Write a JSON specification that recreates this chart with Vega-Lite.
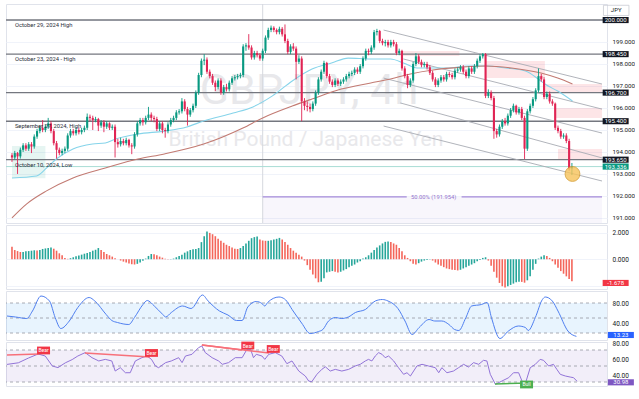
{
"$schema": "https://vega.github.io/schema/vega-lite/v6.json",
"padding": {"left": 4, "top": 3, "right": 0, "bottom": 0},
"background": "#ffffff",
"bounds": "flush",
"spacing": 2,
"config": {"font": "Roboto", "view": {"stroke": "#e0e3eb"}, "axis": {"labelFont": "Roboto", "labelFontSize": 6.5, "labelColor": "#131722", "gridColor": "#f0f3fa", "domain": false, "ticks": false}},
"datasets": {
"candles": [
{"t":0,"o":193.85,"h":193.95,"l":193.55,"c":193.75},{"t":1,"o":193.75,"h":194.05,"l":193.65,"c":193.95},{"t":2,"o":193.95,"h":194.0,"l":193.0,"c":193.8},{"t":3,"o":193.8,"h":194.2,"l":193.7,"c":194.1},{"t":4,"o":194.1,"h":194.4,"l":194.0,"c":194.3},{"t":5,"o":194.3,"h":194.4,"l":194.05,"c":194.15},{"t":6,"o":194.15,"h":194.45,"l":194.05,"c":194.35},{"t":7,"o":194.35,"h":194.45,"l":193.95,"c":194.25},{"t":8,"o":194.25,"h":194.8,"l":194.15,"c":194.7},{"t":9,"o":194.7,"h":195.05,"l":194.6,"c":194.95},
{"t":10,"o":194.95,"h":195.2,"l":194.85,"c":195.1},{"t":11,"o":195.1,"h":195.45,"l":194.9,"c":195.0},{"t":12,"o":195.0,"h":195.25,"l":194.9,"c":195.15},{"t":13,"o":195.15,"h":195.55,"l":195.05,"c":195.3},{"t":14,"o":195.3,"h":195.4,"l":194.85,"c":194.95},{"t":15,"o":194.95,"h":195.05,"l":194.3,"c":194.4},{"t":16,"o":194.4,"h":194.5,"l":193.7,"c":194.1},{"t":17,"o":194.1,"h":194.2,"l":193.85,"c":193.95},{"t":18,"o":193.95,"h":194.15,"l":193.85,"c":194.05},{"t":19,"o":194.05,"h":194.25,"l":193.95,"c":194.15},
{"t":20,"o":194.15,"h":194.85,"l":194.05,"c":194.75},{"t":21,"o":194.75,"h":195.05,"l":194.65,"c":194.95},{"t":22,"o":194.95,"h":195.05,"l":194.75,"c":194.85},{"t":23,"o":194.85,"h":195.1,"l":194.75,"c":195.0},{"t":24,"o":195.0,"h":195.1,"l":194.8,"c":194.9},{"t":25,"o":194.9,"h":195.1,"l":194.8,"c":195.0},{"t":26,"o":195.0,"h":195.2,"l":194.9,"c":195.1},{"t":27,"o":195.1,"h":195.75,"l":195.0,"c":195.6},{"t":28,"o":195.6,"h":195.7,"l":195.4,"c":195.55},{"t":29,"o":195.55,"h":195.65,"l":195.0,"c":195.45},
{"t":30,"o":195.45,"h":195.6,"l":195.35,"c":195.5},{"t":31,"o":195.5,"h":195.55,"l":194.95,"c":195.2},{"t":32,"o":195.2,"h":195.45,"l":195.1,"c":195.35},{"t":33,"o":195.35,"h":195.45,"l":194.9,"c":195.15},{"t":34,"o":195.15,"h":195.4,"l":195.05,"c":195.3},{"t":35,"o":195.3,"h":195.35,"l":195.0,"c":195.1},{"t":36,"o":195.1,"h":195.25,"l":195.0,"c":195.15},{"t":37,"o":195.15,"h":195.25,"l":193.75,"c":194.45},{"t":38,"o":194.45,"h":194.6,"l":194.2,"c":194.35},{"t":39,"o":194.35,"h":194.65,"l":194.25,"c":194.5},
{"t":40,"o":194.5,"h":194.6,"l":194.3,"c":194.4},{"t":41,"o":194.4,"h":194.65,"l":194.3,"c":194.55},{"t":42,"o":194.55,"h":194.6,"l":194.2,"c":194.3},{"t":43,"o":194.3,"h":194.4,"l":193.9,"c":194.25},{"t":44,"o":194.25,"h":194.9,"l":194.15,"c":194.8},{"t":45,"o":194.8,"h":195.4,"l":194.7,"c":195.3},{"t":46,"o":195.3,"h":195.55,"l":195.2,"c":195.45},{"t":47,"o":195.45,"h":195.55,"l":195.2,"c":195.35},{"t":48,"o":195.35,"h":195.65,"l":195.25,"c":195.55},{"t":49,"o":195.55,"h":196.05,"l":195.45,"c":195.7},
{"t":50,"o":195.7,"h":195.8,"l":195.4,"c":195.55},{"t":51,"o":195.55,"h":195.65,"l":195.35,"c":195.5},{"t":52,"o":195.5,"h":195.6,"l":194.95,"c":195.05},{"t":53,"o":195.05,"h":195.4,"l":194.95,"c":195.3},{"t":54,"o":195.3,"h":195.4,"l":194.85,"c":195.0},{"t":55,"o":195.0,"h":195.1,"l":194.65,"c":194.95},{"t":56,"o":194.95,"h":195.35,"l":194.85,"c":195.25},{"t":57,"o":195.25,"h":195.55,"l":195.15,"c":195.45},{"t":58,"o":195.45,"h":195.65,"l":195.35,"c":195.55},{"t":59,"o":195.55,"h":195.9,"l":195.45,"c":195.8},
{"t":60,"o":195.8,"h":195.95,"l":195.7,"c":195.85},{"t":61,"o":195.85,"h":196.45,"l":195.75,"c":196.3},{"t":62,"o":196.3,"h":196.4,"l":195.85,"c":195.95},{"t":63,"o":195.95,"h":196.05,"l":195.2,"c":195.7},{"t":64,"o":195.7,"h":196.0,"l":195.6,"c":195.9},{"t":65,"o":195.9,"h":196.2,"l":195.8,"c":196.1},{"t":66,"o":196.1,"h":196.8,"l":196.0,"c":196.7},{"t":67,"o":196.7,"h":197.6,"l":196.6,"c":197.5},{"t":68,"o":197.5,"h":198.25,"l":197.4,"c":198.15},{"t":69,"o":198.15,"h":198.45,"l":197.95,"c":198.2},
{"t":70,"o":198.2,"h":198.3,"l":197.55,"c":197.65},{"t":71,"o":197.65,"h":197.75,"l":197.35,"c":197.45},{"t":72,"o":197.45,"h":197.55,"l":197.05,"c":197.15},{"t":73,"o":197.15,"h":197.25,"l":196.77,"c":196.95},{"t":74,"o":196.95,"h":197.35,"l":196.85,"c":197.25},{"t":75,"o":197.25,"h":197.35,"l":196.6,"c":196.7},{"t":76,"o":196.7,"h":197.05,"l":196.6,"c":196.95},{"t":77,"o":196.95,"h":197.1,"l":196.75,"c":196.85},{"t":78,"o":196.85,"h":197.25,"l":196.75,"c":197.15},{"t":79,"o":197.15,"h":197.45,"l":197.05,"c":197.35},
{"t":80,"o":197.35,"h":197.5,"l":197.25,"c":197.4},{"t":81,"o":197.4,"h":197.55,"l":197.3,"c":197.45},{"t":82,"o":197.45,"h":197.6,"l":197.35,"c":197.5},{"t":83,"o":197.5,"h":198.9,"l":197.4,"c":198.8},{"t":84,"o":198.8,"h":198.95,"l":198.6,"c":198.85},{"t":85,"o":198.85,"h":199.36,"l":198.65,"c":198.75},{"t":86,"o":198.75,"h":198.85,"l":198.2,"c":198.3},{"t":87,"o":198.3,"h":198.6,"l":198.2,"c":198.5},{"t":88,"o":198.5,"h":198.6,"l":198.3,"c":198.4},{"t":89,"o":198.4,"h":198.5,"l":198.15,"c":198.25},
{"t":90,"o":198.25,"h":198.7,"l":198.15,"c":198.6},{"t":91,"o":198.6,"h":199.3,"l":198.5,"c":199.2},{"t":92,"o":199.2,"h":199.65,"l":199.1,"c":199.55},{"t":93,"o":199.55,"h":199.75,"l":199.45,"c":199.65},{"t":94,"o":199.65,"h":199.72,"l":199.45,"c":199.55},{"t":95,"o":199.55,"h":199.62,"l":199.35,"c":199.45},{"t":96,"o":199.45,"h":199.7,"l":199.35,"c":199.6},{"t":97,"o":199.6,"h":199.68,"l":199.25,"c":199.35},{"t":98,"o":199.35,"h":199.8,"l":198.95,"c":199.05},{"t":99,"o":199.05,"h":199.15,"l":198.45,"c":198.55},
{"t":100,"o":198.55,"h":198.9,"l":198.45,"c":198.8},{"t":101,"o":198.8,"h":198.95,"l":198.6,"c":198.7},{"t":102,"o":198.7,"h":198.8,"l":197.3,"c":198.1},{"t":103,"o":198.1,"h":198.4,"l":198.0,"c":198.25},{"t":104,"o":198.25,"h":198.35,"l":195.4,"c":196.3},{"t":105,"o":196.3,"h":196.45,"l":195.9,"c":196.1},{"t":106,"o":196.1,"h":196.3,"l":195.85,"c":196.05},{"t":107,"o":196.05,"h":196.2,"l":195.8,"c":195.95},{"t":108,"o":195.95,"h":196.3,"l":195.85,"c":196.2},{"t":109,"o":196.2,"h":196.8,"l":196.1,"c":196.7},
{"t":110,"o":196.7,"h":197.4,"l":196.6,"c":197.3},{"t":111,"o":197.3,"h":197.75,"l":197.2,"c":197.65},{"t":112,"o":197.65,"h":198.15,"l":197.55,"c":198.05},{"t":113,"o":198.05,"h":198.1,"l":197.35,"c":197.45},{"t":114,"o":197.45,"h":197.55,"l":197.1,"c":197.2},{"t":115,"o":197.2,"h":197.3,"l":196.95,"c":197.05},{"t":116,"o":197.05,"h":197.35,"l":196.95,"c":197.25},{"t":117,"o":197.25,"h":197.35,"l":197.0,"c":197.1},{"t":118,"o":197.1,"h":197.3,"l":197.0,"c":197.2},{"t":119,"o":197.2,"h":197.4,"l":197.1,"c":197.3},
{"t":120,"o":197.3,"h":197.55,"l":197.2,"c":197.45},{"t":121,"o":197.45,"h":197.65,"l":197.35,"c":197.55},{"t":122,"o":197.55,"h":197.7,"l":197.45,"c":197.6},{"t":123,"o":197.6,"h":197.85,"l":197.5,"c":197.75},{"t":124,"o":197.75,"h":197.85,"l":197.55,"c":197.65},{"t":125,"o":197.65,"h":198.0,"l":197.55,"c":197.9},{"t":126,"o":197.9,"h":198.35,"l":197.8,"c":198.25},{"t":127,"o":198.25,"h":198.7,"l":198.15,"c":198.6},{"t":128,"o":198.6,"h":198.7,"l":198.4,"c":198.55},{"t":129,"o":198.55,"h":198.85,"l":198.45,"c":198.75},
{"t":130,"o":198.75,"h":199.55,"l":198.65,"c":199.45},{"t":131,"o":199.45,"h":199.6,"l":199.3,"c":199.5},{"t":132,"o":199.5,"h":199.55,"l":198.95,"c":199.05},{"t":133,"o":199.05,"h":199.15,"l":198.85,"c":198.95},{"t":134,"o":198.95,"h":199.1,"l":198.8,"c":199.0},{"t":135,"o":199.0,"h":199.1,"l":198.75,"c":198.85},{"t":136,"o":198.85,"h":199.1,"l":198.75,"c":199.0},{"t":137,"o":199.0,"h":199.1,"l":198.8,"c":198.9},{"t":138,"o":198.9,"h":199.0,"l":198.4,"c":198.5},{"t":139,"o":198.5,"h":198.7,"l":198.4,"c":198.6},
{"t":140,"o":198.6,"h":198.65,"l":197.7,"c":197.8},{"t":141,"o":197.8,"h":197.9,"l":197.35,"c":197.45},{"t":142,"o":197.45,"h":197.55,"l":196.9,"c":197.05},{"t":143,"o":197.05,"h":197.35,"l":196.95,"c":197.25},{"t":144,"o":197.25,"h":198.1,"l":197.15,"c":198.0},{"t":145,"o":198.0,"h":198.5,"l":197.9,"c":198.35},{"t":146,"o":198.35,"h":198.45,"l":198.0,"c":198.1},{"t":147,"o":198.1,"h":198.2,"l":197.85,"c":197.95},{"t":148,"o":197.95,"h":198.1,"l":197.85,"c":198.0},{"t":149,"o":198.0,"h":198.1,"l":197.75,"c":197.85},
{"t":150,"o":197.85,"h":197.95,"l":197.5,"c":197.6},{"t":151,"o":197.6,"h":197.7,"l":197.2,"c":197.3},{"t":152,"o":197.3,"h":197.4,"l":196.95,"c":197.05},{"t":153,"o":197.05,"h":197.35,"l":196.95,"c":197.25},{"t":154,"o":197.25,"h":197.5,"l":197.15,"c":197.4},{"t":155,"o":197.4,"h":197.5,"l":197.2,"c":197.3},{"t":156,"o":197.3,"h":197.65,"l":197.2,"c":197.55},{"t":157,"o":197.55,"h":197.65,"l":197.4,"c":197.5},{"t":158,"o":197.5,"h":197.6,"l":197.3,"c":197.4},{"t":159,"o":197.4,"h":197.8,"l":197.3,"c":197.7},
{"t":160,"o":197.7,"h":197.85,"l":197.6,"c":197.75},{"t":161,"o":197.75,"h":197.95,"l":197.65,"c":197.85},{"t":162,"o":197.85,"h":197.95,"l":197.55,"c":197.65},{"t":163,"o":197.65,"h":197.75,"l":197.35,"c":197.45},{"t":164,"o":197.45,"h":197.9,"l":197.35,"c":197.8},{"t":165,"o":197.8,"h":197.9,"l":197.55,"c":197.65},{"t":166,"o":197.65,"h":198.0,"l":197.55,"c":197.9},{"t":167,"o":197.9,"h":198.25,"l":197.8,"c":198.15},{"t":168,"o":198.15,"h":198.45,"l":198.05,"c":198.35},{"t":169,"o":198.35,"h":198.5,"l":198.25,"c":198.45},
{"t":170,"o":198.45,"h":198.5,"l":196.45,"c":196.55},{"t":171,"o":196.55,"h":196.85,"l":196.45,"c":196.7},{"t":172,"o":196.7,"h":196.8,"l":196.35,"c":196.45},{"t":173,"o":196.45,"h":196.55,"l":194.6,"c":194.95},{"t":174,"o":194.95,"h":195.05,"l":194.65,"c":194.8},{"t":175,"o":194.8,"h":195.25,"l":194.7,"c":195.15},{"t":176,"o":195.15,"h":195.5,"l":195.05,"c":195.4},{"t":177,"o":195.4,"h":195.55,"l":195.2,"c":195.3},{"t":178,"o":195.3,"h":195.75,"l":195.2,"c":195.65},{"t":179,"o":195.65,"h":196.0,"l":195.55,"c":195.9},
{"t":180,"o":195.9,"h":196.2,"l":195.8,"c":196.1},{"t":181,"o":196.1,"h":196.15,"l":195.7,"c":195.8},{"t":182,"o":195.8,"h":196.05,"l":195.7,"c":195.95},{"t":183,"o":195.95,"h":196.05,"l":195.45,"c":195.55},{"t":184,"o":195.55,"h":195.65,"l":193.68,"c":194.15},{"t":185,"o":194.15,"h":195.95,"l":194.05,"c":195.85},{"t":186,"o":195.85,"h":196.2,"l":195.75,"c":196.1},{"t":187,"o":196.1,"h":196.5,"l":196.0,"c":196.4},{"t":188,"o":196.4,"h":196.9,"l":196.3,"c":196.8},{"t":189,"o":196.8,"h":197.8,"l":196.7,"c":197.45},
{"t":190,"o":197.45,"h":197.55,"l":197.2,"c":197.3},{"t":191,"o":197.3,"h":197.4,"l":196.4,"c":196.5},{"t":192,"o":196.5,"h":196.75,"l":196.4,"c":196.65},{"t":193,"o":196.65,"h":196.75,"l":196.2,"c":196.3},{"t":194,"o":196.3,"h":196.4,"l":196.1,"c":196.2},{"t":195,"o":196.2,"h":196.25,"l":195.0,"c":195.1},{"t":196,"o":195.1,"h":195.2,"l":194.85,"c":194.95},{"t":197,"o":194.95,"h":195.05,"l":194.6,"c":194.7},{"t":198,"o":194.7,"h":194.85,"l":194.6,"c":194.75},{"t":199,"o":194.75,"h":194.85,"l":194.4,"c":194.5},
{"t":200,"o":194.5,"h":194.6,"l":193.15,"c":193.25},{"t":201,"o":193.25,"h":193.5,"l":192.95,"c":193.34}
],
"ma": [
{"t":0,"v":192.82,"k":"ma50"},{"t":8.8,"v":192.91,"k":"ma50"},{"t":12.4,"v":193.27,"k":"ma50"},{"t":15.9,"v":193.68,"k":"ma50"},{"t":21.9,"v":194.14,"k":"ma50"},{"t":28.9,"v":194.36,"k":"ma50"},{"t":33.5,"v":194.41,"k":"ma50"},{"t":37.1,"v":194.59,"k":"ma50"},{"t":45.2,"v":194.82,"k":"ma50"},{"t":54.7,"v":194.95,"k":"ma50"},{"t":62.8,"v":195.14,"k":"ma50"},{"t":68.8,"v":195.41,"k":"ma50"},{"t":79.4,"v":195.77,"k":"ma50"},{"t":86.5,"v":196.05,"k":"ma50"},{"t":93.5,"v":196.55,"k":"ma50"},{"t":100.6,"v":197.23,"k":"ma50"},{"t":107.7,"v":197.77,"k":"ma50"},{"t":114.7,"v":198.05,"k":"ma50"},{"t":120.7,"v":198.27,"k":"ma50"},{"t":128.8,"v":198.23,"k":"ma50"},{"t":135.9,"v":198.23,"k":"ma50"},{"t":140.5,"v":198.05,"k":"ma50"},{"t":145.4,"v":197.82,"k":"ma50"},{"t":156,"v":197.82,"k":"ma50"},{"t":164.1,"v":197.91,"k":"ma50"},{"t":170.1,"v":197.91,"k":"ma50"},{"t":177.2,"v":197.82,"k":"ma50"},{"t":184.3,"v":197.68,"k":"ma50"},{"t":188.9,"v":197.32,"k":"ma50"},{"t":191.3,"v":197.09,"k":"ma50"},{"t":195.9,"v":196.77,"k":"ma50"},{"t":201.2,"v":196.32,"k":"ma50"},
{"t":0,"v":191.0,"k":"ma200"},{"t":5.3,"v":191.64,"k":"ma200"},{"t":12.4,"v":192.23,"k":"ma200"},{"t":21.9,"v":192.82,"k":"ma200"},{"t":33.5,"v":193.27,"k":"ma200"},{"t":45.2,"v":193.68,"k":"ma200"},{"t":54.7,"v":193.91,"k":"ma200"},{"t":68.8,"v":194.36,"k":"ma200"},{"t":82.9,"v":195.09,"k":"ma200"},{"t":90,"v":195.55,"k":"ma200"},{"t":100.6,"v":196.09,"k":"ma200"},{"t":107.7,"v":196.41,"k":"ma200"},{"t":118.2,"v":196.86,"k":"ma200"},{"t":128.8,"v":197.14,"k":"ma200"},{"t":135.9,"v":197.32,"k":"ma200"},{"t":143,"v":197.55,"k":"ma200"},{"t":151.1,"v":197.73,"k":"ma200"},{"t":161.7,"v":197.86,"k":"ma200"},{"t":170.1,"v":197.91,"k":"ma200"},{"t":179.3,"v":197.82,"k":"ma200"},{"t":189.9,"v":197.59,"k":"ma200"},{"t":195.9,"v":197.36,"k":"ma200"},{"t":201.2,"v":197.09,"k":"ma200"}
],
"boxes": [
{"t1":0,"t2":12,"p1":192.8,"p2":194.27,"k":"pos"},
{"t1":90,"t2":211.8,"p1":190.77,"p2":191.954,"k":"fib"},
{"t1":139.4,"t2":160.6,"p1":198.36,"p2":198.59,"k":"zone"},
{"t1":170,"t2":191.3,"p1":197.36,"p2":198.14,"k":"zone"},
{"t1":191.3,"t2":211.8,"p1":196.68,"p2":197.09,"k":"zone"},
{"t1":194.8,"t2":211.8,"p1":195.55,"p2":196.0,"k":"zone"},
{"t1":196,"t2":211.8,"p1":193.63,"p2":194.14,"k":"zone"}
],
"channels": [
{"t1":133.4,"p1":199.545,"t2":211.8,"p2":197.09},
{"t1":140.5,"p1":198.23,"t2":211.8,"p2":195.95},
{"t1":133.4,"p1":197.36,"t2":211.8,"p2":194.86},
{"t1":139.4,"p1":196.23,"t2":211.8,"p2":193.73},
{"t1":133.4,"p1":195.18,"t2":211.8,"p2":192.68}
],
"levels": [
{"v":200.0,"lab":"October 29, 2024 High","b":"200.000"},
{"v":198.45,"lab":"October 23, 2024 - High","b":"198.450"},
{"v":196.7,"lab":"","b":"196.700"},
{"v":195.4,"lab":"September 27, 2024, High","b":"195.400"},
{"v":193.65,"lab":"October 10, 2024, Low","b":"193.650"}
],
"macd": [
{"t":0,"m":0.95},{"t":1,"m":0.7},{"t":2,"m":0.62},{"t":3,"m":0.55},{"t":4,"m":0.55},{"t":5,"m":0.6},{"t":6,"m":0.62},{"t":7,"m":0.65},{"t":8,"m":0.68},{"t":9,"m":0.66},
{"t":10,"m":0.7},{"t":11,"m":0.78},{"t":12,"m":0.82},{"t":13,"m":0.86},{"t":14,"m":0.9},{"t":15,"m":0.8},{"t":16,"m":0.65},{"t":17,"m":0.45},{"t":18,"m":0.3},{"t":19,"m":0.1},
{"t":20,"m":0.03},{"t":21,"m":0.08},{"t":22,"m":0.15},{"t":23,"m":0.22},{"t":24,"m":0.28},{"t":25,"m":0.35},{"t":26,"m":0.42},{"t":27,"m":0.48},{"t":28,"m":0.55},{"t":29,"m":0.65},
{"t":30,"m":0.72},{"t":31,"m":0.85},{"t":32,"m":0.7},{"t":33,"m":0.55},{"t":34,"m":0.4},{"t":35,"m":0.3},{"t":36,"m":0.2},{"t":37,"m":0.08},{"t":38,"m":0.0},{"t":39,"m":-0.1},
{"t":40,"m":-0.18},{"t":41,"m":-0.25},{"t":42,"m":-0.32},{"t":43,"m":-0.38},{"t":44,"m":-0.4},{"t":45,"m":-0.35},{"t":46,"m":-0.25},{"t":47,"m":-0.12},{"t":48,"m":0.05},{"t":49,"m":0.25},
{"t":50,"m":0.4},{"t":51,"m":0.38},{"t":52,"m":0.3},{"t":53,"m":0.2},{"t":54,"m":0.12},{"t":55,"m":0.03},{"t":56,"m":0.01},{"t":57,"m":0.02},{"t":58,"m":0.05},{"t":59,"m":0.15},
{"t":60,"m":0.25},{"t":61,"m":0.35},{"t":62,"m":0.5},{"t":63,"m":0.6},{"t":64,"m":0.7},{"t":65,"m":0.75},{"t":66,"m":0.78},{"t":67,"m":0.85},{"t":68,"m":1.3},{"t":69,"m":1.75},
{"t":70,"m":2.1},{"t":71,"m":2.0},{"t":72,"m":1.9},{"t":73,"m":1.75},{"t":74,"m":1.55},{"t":75,"m":1.4},{"t":76,"m":1.25},{"t":77,"m":1.1},{"t":78,"m":1.0},{"t":79,"m":0.9},
{"t":80,"m":0.8},{"t":81,"m":0.78},{"t":82,"m":0.85},{"t":83,"m":1.0},{"t":84,"m":1.2},{"t":85,"m":1.4},{"t":86,"m":1.6},{"t":87,"m":1.68},{"t":88,"m":1.72},{"t":89,"m":1.5},
{"t":90,"m":1.42},{"t":91,"m":1.4},{"t":92,"m":1.4},{"t":93,"m":1.45},{"t":94,"m":1.5},{"t":95,"m":1.55},{"t":96,"m":1.62},{"t":97,"m":1.5},{"t":98,"m":1.3},{"t":99,"m":1.1},
{"t":100,"m":0.85},{"t":101,"m":0.65},{"t":102,"m":0.5},{"t":103,"m":0.35},{"t":104,"m":0.2},{"t":105,"m":-0.1},{"t":106,"m":-0.45},{"t":107,"m":-0.8},{"t":108,"m":-1.15},{"t":109,"m":-1.45},
{"t":110,"m":-1.75},{"t":111,"m":-1.7},{"t":112,"m":-1.45},{"t":113,"m":-1.0},{"t":114,"m":-0.95},{"t":115,"m":-0.9},{"t":116,"m":-0.95},{"t":117,"m":-1.0},{"t":118,"m":-0.95},{"t":119,"m":-0.85},
{"t":120,"m":-0.75},{"t":121,"m":-0.6},{"t":122,"m":-0.5},{"t":123,"m":-0.4},{"t":124,"m":-0.25},{"t":125,"m":-0.15},{"t":126,"m":0.05},{"t":127,"m":0.15},{"t":128,"m":0.3},{"t":129,"m":0.5},
{"t":130,"m":0.7},{"t":131,"m":0.9},{"t":132,"m":1.05},{"t":133,"m":1.2},{"t":134,"m":1.32},{"t":135,"m":1.35},{"t":136,"m":1.3},{"t":137,"m":1.2},{"t":138,"m":1.1},{"t":139,"m":0.85},
{"t":140,"m":0.6},{"t":141,"m":0.3},{"t":142,"m":0.1},{"t":143,"m":-0.15},{"t":144,"m":-0.35},{"t":145,"m":-0.4},{"t":146,"m":-0.3},{"t":147,"m":-0.18},{"t":148,"m":-0.1},{"t":149,"m":-0.05},
{"t":150,"m":-0.02},{"t":151,"m":-0.1},{"t":152,"m":-0.25},{"t":153,"m":-0.4},{"t":154,"m":-0.5},{"t":155,"m":-0.6},{"t":156,"m":-0.7},{"t":157,"m":-0.75},{"t":158,"m":-0.8},{"t":159,"m":-0.82},
{"t":160,"m":-0.85},{"t":161,"m":-0.8},{"t":162,"m":-0.7},{"t":163,"m":-0.6},{"t":164,"m":-0.5},{"t":165,"m":-0.4},{"t":166,"m":-0.3},{"t":167,"m":-0.15},{"t":168,"m":-0.05},{"t":169,"m":0.1},
{"t":170,"m":0.15},{"t":171,"m":-0.1},{"t":172,"m":-0.5},{"t":173,"m":-0.95},{"t":174,"m":-1.4},{"t":175,"m":-1.8},{"t":176,"m":-2.05},{"t":177,"m":-2.15},{"t":178,"m":-2.05},{"t":179,"m":-1.95},
{"t":180,"m":-1.85},{"t":181,"m":-1.75},{"t":182,"m":-1.7},{"t":183,"m":-1.72},{"t":184,"m":-1.78},{"t":185,"m":-1.6},{"t":186,"m":-1.3},{"t":187,"m":-0.8},{"t":188,"m":-0.35},{"t":189,"m":0.05},
{"t":190,"m":0.2},{"t":191,"m":0.3},{"t":192,"m":0.25},{"t":193,"m":0.1},{"t":194,"m":-0.15},{"t":195,"m":-0.4},{"t":196,"m":-0.65},{"t":197,"m":-0.9},{"t":198,"m":-1.1},{"t":199,"m":-1.3},
{"t":200,"m":-1.5},{"t":201,"m":-1.678}
],
"stoch": [
{"t":0,"s":54},{"t":3,"s":52},{"t":7,"s":49},{"t":9,"s":64},{"t":12,"s":94},{"t":15,"s":84},{"t":17,"s":51},{"t":19,"s":29},{"t":22,"s":44},{"t":25,"s":71},{"t":29,"s":91},{"t":31,"s":84},{"t":35,"s":57},{"t":37,"s":45},{"t":39,"s":41},{"t":43,"s":37},{"t":45,"s":51},{"t":48,"s":77},{"t":49.5,"s":85},{"t":52,"s":74},{"t":55,"s":57},{"t":56,"s":52},{"t":58,"s":61},{"t":62,"s":74},{"t":65,"s":69},{"t":69,"s":96},{"t":71,"s":84},{"t":75,"s":64},{"t":78,"s":56},{"t":81,"s":45},{"t":83,"s":45},{"t":85,"s":72},{"t":88,"s":83},{"t":90,"s":79},{"t":91,"s":74},{"t":92,"s":81},{"t":96,"s":92},{"t":98,"s":88},{"t":101,"s":64},{"t":104,"s":40},{"t":107,"s":19},{"t":110,"s":23},{"t":111.5,"s":27},{"t":113.5,"s":44},{"t":116,"s":51},{"t":118,"s":49},{"t":120.5,"s":52},{"t":123,"s":61},{"t":126.5,"s":67},{"t":130,"s":84},{"t":132.5,"s":87},{"t":134.5,"s":84},{"t":138,"s":69},{"t":140.5,"s":44},{"t":143,"s":17},{"t":145.5,"s":31},{"t":149,"s":47},{"t":151,"s":44},{"t":153.5,"s":44},{"t":156,"s":37},{"t":158,"s":27},{"t":159.5,"s":25},{"t":162,"s":51},{"t":164,"s":74},{"t":167.5,"s":77},{"t":169.5,"s":81},{"t":171,"s":51},{"t":174,"s":9},{"t":177,"s":24},{"t":180.5,"s":34},{"t":183,"s":31},{"t":184,"s":25},{"t":186.5,"s":51},{"t":189,"s":87},{"t":190,"s":92},{"t":192.5,"s":84},{"t":194.5,"s":64},{"t":198,"s":24},{"t":201,"s":13.23}
],
"rsi": [
{"t":0,"r":52},{"t":4,"r":54},{"t":7.6,"r":60},{"t":11,"r":65},{"t":13.5,"r":62.5},{"t":16,"r":50},{"t":18,"r":48},{"t":20.6,"r":54},{"t":23,"r":58},{"t":25,"r":62.5},{"t":27.6,"r":66.7},{"t":30,"r":60.4},{"t":32.4,"r":56.3},{"t":34.7,"r":58.3},{"t":37,"r":56.3},{"t":38.2,"r":43.7},{"t":40,"r":47.9},{"t":41.8,"r":41.6},{"t":43.5,"r":41.6},{"t":45.3,"r":56.3},{"t":47.6,"r":60.4},{"t":49.4,"r":62.5},{"t":51,"r":58.3},{"t":52.4,"r":50},{"t":53.5,"r":47.9},{"t":56,"r":54.2},{"t":58,"r":56.3},{"t":60.6,"r":60.4},{"t":61.8,"r":54.2},{"t":63,"r":62.5},{"t":65.3,"r":64.6},{"t":67.6,"r":72.9},{"t":68.8,"r":75},{"t":70,"r":66.7},{"t":72.4,"r":60.4},{"t":74.7,"r":56.3},{"t":76,"r":52.1},{"t":78.2,"r":54.2},{"t":80.6,"r":60.4},{"t":83,"r":60.4},{"t":84.7,"r":70.8},{"t":86,"r":70.8},{"t":87,"r":60.4},{"t":88,"r":64.6},{"t":90,"r":62.5},{"t":91,"r":58.3},{"t":92.4,"r":64.6},{"t":94.7,"r":66.7},{"t":97,"r":62.5},{"t":98.8,"r":52.9},{"t":100.6,"r":56.3},{"t":103,"r":43.7},{"t":105.3,"r":37.5},{"t":106.5,"r":31.2},{"t":107.6,"r":30.4},{"t":109.4,"r":39.6},{"t":111.2,"r":46},
{"t":112.4,"r":49},{"t":114.1,"r":43.7},{"t":115.9,"r":45.8},{"t":118.2,"r":43.7},{"t":120.6,"r":45.8},{"t":122.9,"r":50},{"t":124.7,"r":52.1},{"t":126.5,"r":56.3},{"t":127.6,"r":58.3},{"t":128.8,"r":56.3},{"t":130,"r":62.5},{"t":131.2,"r":66.7},{"t":132.4,"r":64.6},{"t":133.5,"r":60.4},{"t":134.7,"r":62.5},{"t":136.5,"r":56.3},{"t":138.2,"r":47.9},{"t":140,"r":39.6},{"t":141.2,"r":41.6},{"t":142.4,"r":37.5},{"t":144.7,"r":50},{"t":146.5,"r":52.1},{"t":148.8,"r":50},{"t":151.2,"r":47.9},{"t":152.4,"r":41.6},{"t":153.5,"r":47.9},{"t":155.3,"r":41.6},{"t":157.6,"r":43.7},{"t":159.4,"r":47.9},{"t":161.2,"r":52.1},{"t":162.9,"r":48.7},{"t":164.7,"r":54.2},{"t":166.5,"r":52.1},{"t":168.2,"r":57.1},{"t":169.4,"r":56.3},{"t":170.6,"r":39.6},{"t":172.4,"r":27.1},{"t":174.7,"r":31.2},{"t":177.1,"r":35.4},{"t":178.8,"r":41.6},{"t":180.6,"r":41.6},{"t":181.8,"r":31.2},{"t":182.9,"r":27.1},{"t":184.7,"r":47.9},{"t":186.5,"r":52.1},{"t":188.2,"r":58.3},{"t":189.4,"r":57.1},{"t":191.2,"r":50},{"t":192.9,"r":52.1},{"t":194.1,"r":45.8},{"t":195.3,"r":39.6},{"t":197.1,"r":37.5},{"t":198.8,"r":36.2},{"t":200,"r":35.4},{"t":201.2,"r":30.98}
],
"divs": [
{"t1":0,"r1":63.75,"t2":11.3,"r2":65,"k":"bear"},
{"t1":27.5,"r1":66.3,"t2":50.5,"r2":61.3,"k":"bear"},
{"t1":68.8,"r1":76.3,"t2":83,"r2":70,"k":"bear"},
{"t1":68.8,"r1":76.3,"t2":92.5,"r2":66.3,"k":"bear"},
{"t1":172.3,"r1":27.5,"t2":184.3,"r2":28.75,"k":"bull"}
],
"divlabels": [
{"t":12.9,"r":69.4,"lab":"Bear"},{"t":51,"r":66.3,"lab":"Bear"},{"t":85,"r":75.6,"lab":"Bear"},{"t":94,"r":71.3,"lab":"Bear"},{"t":183.4,"r":26.9,"lab":"Bull"}
]
},
"vconcat": [
{
"width": 601, "height": 219,
"layer": [
{"data": {"name": "boxes"}, "mark": {"type": "rect"},
 "encoding": {
  "x": {"field": "t1", "type": "quantitative", "scale": {"domain": [-0.35, 211.8], "nice": false, "zero": false}, "axis": {"values": [8.5,24,38.8,54,69.2,84,108,126,144.4,159.5,174.4,189.5,204], "labels": false, "grid": true, "title": null}},
  "x2": {"field": "t2"},
  "y": {"field": "p1", "type": "quantitative", "scale": {"domain": [190.77, 200.73], "nice": false, "zero": false}, "axis": {"orient": "right", "tickCount": 10, "labelExpr": "datum.value >= 199.99 ? '' : format(datum.value, '.3f')", "labelPadding": 5, "labelFontSize": 6.2, "labelOffset": -0.5, "grid": true, "title": null}},
  "y2": {"field": "p2"},
  "color": {"condition": [{"test": "datum.k === 'zone'", "value": "#f23645"}, {"test": "datum.k === 'fib'", "value": "#7e57c2"}], "value": "#089981"},
  "opacity": {"condition": [{"test": "datum.k === 'zone'", "value": 0.13}, {"test": "datum.k === 'fib'", "value": 0.05}], "value": 0.1}
 }},
{"data": {"values": [{"lab": "GBPJPY, 4h"}]}, "mark": {"type": "text", "fontSize": 43, "color": "#e8e8eb", "align": "center", "baseline": "middle"},
 "encoding": {"x": {"datum": 106.6, "type": "quantitative", "axis": null}, "y": {"datum": 196.77, "type": "quantitative"}, "text": {"field": "lab"}}},
{"data": {"values": [{"lab": "British Pound / Japanese Yen"}]}, "mark": {"type": "text", "fontSize": 21, "color": "#e8e8eb", "align": "center", "baseline": "middle"},
 "encoding": {"x": {"datum": 105.5, "type": "quantitative", "axis": null}, "y": {"datum": 194.55, "type": "quantitative"}, "text": {"field": "lab"}}},
{"data": {"values": [{}]}, "mark": {"type": "rule", "color": "#d6d8de", "strokeWidth": 1},
 "encoding": {"x": {"datum": 90, "type": "quantitative", "axis": null}}},
{"data": {"name": "levels"}, "mark": {"type": "rule", "color": "#74777f", "strokeWidth": 1.4},
 "encoding": {"y": {"field": "v", "type": "quantitative"}}},
{"data": {"values": [{}]}, "mark": {"type": "rule", "color": "#a9ddd5", "strokeWidth": 1},
 "encoding": {"y": {"datum": 193.336, "type": "quantitative"}}},
{"data": {"values": [{"t1": 90, "t2": 141.7}, {"t1": 161.4, "t2": 211.8}]}, "mark": {"type": "rule", "color": "#a48ad9", "strokeWidth": 1.2},
 "encoding": {"x": {"field": "t1", "type": "quantitative", "axis": null}, "x2": {"field": "t2"}, "y": {"datum": 191.954, "type": "quantitative"}}},
{"data": {"name": "channels"}, "mark": {"type": "rule", "color": "#a8abb3", "strokeWidth": 0.9},
 "encoding": {"x": {"field": "t1", "type": "quantitative", "axis": null}, "x2": {"field": "t2"}, "y": {"field": "p1", "type": "quantitative"}, "y2": {"field": "p2"}}},
{"data": {"name": "ma"}, "mark": {"type": "line", "strokeWidth": 1.1, "interpolate": "monotone"},
 "encoding": {"x": {"field": "t", "type": "quantitative", "axis": null}, "y": {"field": "v", "type": "quantitative"}, "color": {"field": "k", "type": "nominal", "scale": {"domain": ["ma50", "ma200"], "range": ["#86d4ea", "#c27a72"]}, "legend": null}}},
{"data": {"name": "candles"}, "mark": {"type": "rule", "strokeWidth": 0.9},
 "encoding": {"x": {"field": "t", "type": "quantitative", "axis": null}, "y": {"field": "l", "type": "quantitative"}, "y2": {"field": "h"},
  "color": {"condition": {"test": "datum.c >= datum.o", "value": "#089981"}, "value": "#e02454"}}},
{"data": {"name": "candles"}, "mark": {"type": "bar", "width": 2.1},
 "encoding": {"x": {"field": "t", "type": "quantitative", "axis": null}, "y": {"field": "o", "type": "quantitative"}, "y2": {"field": "c"},
  "color": {"condition": {"test": "datum.c >= datum.o", "value": "#089981"}, "value": "#e02454"}}},
{"data": {"values": [{}]}, "mark": {"type": "point", "filled": true, "size": 220, "color": "#f7c35a", "opacity": 0.8, "stroke": "#d49a2c", "strokeWidth": 1},
 "encoding": {"x": {"datum": 201.2, "type": "quantitative", "axis": null}, "y": {"datum": 193.0, "type": "quantitative"}}},
{"data": {"name": "levels"}, "mark": {"type": "text", "fontSize": 5.8, "color": "#2a2e39", "align": "left", "baseline": "top", "dy": 2},
 "encoding": {"x": {"datum": 1.06, "type": "quantitative", "axis": null}, "y": {"field": "v", "type": "quantitative"}, "text": {"field": "lab"}}},
{"data": {"values": [{"lab": "50.00% (191.954)"}]}, "mark": {"type": "text", "fontSize": 5.8, "color": "#9575cd", "align": "left", "baseline": "middle"},
 "encoding": {"x": {"datum": 143.2, "type": "quantitative", "axis": null}, "y": {"datum": 191.954, "type": "quantitative"}, "text": {"field": "lab"}}},
{"data": {"name": "levels"}, "mark": {"type": "point", "shape": "M-1,-0.235H1V0.235H-1Z", "size": 676, "filled": true, "color": "#131722", "opacity": 1},
 "encoding": {"x": {"datum": 216.7, "type": "quantitative", "axis": null}, "y": {"field": "v", "type": "quantitative"}}},
{"data": {"name": "levels"}, "mark": {"type": "text", "fontSize": 6, "color": "#ffffff", "align": "center", "baseline": "middle"},
 "encoding": {"x": {"datum": 216.7, "type": "quantitative", "axis": null}, "y": {"field": "v", "type": "quantitative"}, "text": {"field": "b"}}},
{"data": {"values": [{"b": "193.336"}]}, "mark": {"type": "point", "shape": "M-1,-0.235H1V0.235H-1Z", "size": 676, "filled": true, "color": "#089981", "opacity": 1},
 "encoding": {"x": {"datum": 216.7, "type": "quantitative", "axis": null}, "y": {"datum": 193.336, "type": "quantitative"}}},
{"data": {"values": [{"b": "193.336"}]}, "mark": {"type": "text", "fontSize": 6, "color": "#ffffff", "align": "center", "baseline": "middle"},
 "encoding": {"x": {"datum": 216.7, "type": "quantitative", "axis": null}, "y": {"datum": 193.336, "type": "quantitative"}, "text": {"field": "b"}}},
{"data": {"values": [{"b": "JPY"}]}, "mark": {"type": "point", "shape": "M-1,-0.4H1V0.4H-1Z", "size": 650, "filled": false, "stroke": "#c9ccd3", "strokeWidth": 0.8, "opacity": 1},
 "encoding": {"x": {"datum": 216.9, "type": "quantitative", "axis": null}, "y": {"datum": 200.44, "type": "quantitative"}}},
{"data": {"values": [{"b": "JPY"}]}, "mark": {"type": "text", "fontSize": 6, "color": "#131722", "align": "center", "baseline": "middle"},
 "encoding": {"x": {"datum": 216.9, "type": "quantitative", "axis": null}, "y": {"datum": 200.44, "type": "quantitative"}, "text": {"field": "b"}}}
]
},
{
"width": 601, "height": 64,
"layer": [
{"data": {"name": "macd"}, "transform": [{"window": [{"op": "lag", "field": "m", "as": "pm"}], "sort": [{"field": "t"}]}],
 "mark": {"type": "bar", "width": 1.6},
 "encoding": {
  "x": {"field": "t", "type": "quantitative", "scale": {"domain": [-0.35, 211.8], "nice": false, "zero": false}, "axis": {"values": [8.5,24,38.8,54,69.2,84,108,126,144.4,159.5,174.4,189.5,204], "labels": false, "grid": true, "title": null}},
  "y": {"field": "m", "type": "quantitative", "scale": {"domain": [-2.26, 2.6], "nice": false, "zero": false}, "axis": {"orient": "right", "tickCount": 3, "labelExpr": "datum.value < -1.5 ? '' : format(datum.value, '.3f')", "labelPadding": 5, "grid": true, "title": null}},
  "y2": {"datum": 0},
  "color": {"condition": {"test": "datum.pm != null && datum.m >= datum.pm", "value": "#26a69a"}, "value": "#f4665b"}
 }},
{"data": {"values": [{"b": "-1.678"}]}, "mark": {"type": "point", "shape": "M-1,-0.235H1V0.235H-1Z", "size": 676, "filled": true, "color": "#f23645", "opacity": 1},
 "encoding": {"x": {"datum": 216.7, "type": "quantitative", "axis": null}, "y": {"datum": -1.8, "type": "quantitative"}}},
{"data": {"values": [{"b": "-1.678"}]}, "mark": {"type": "text", "fontSize": 6, "color": "#ffffff", "align": "center", "baseline": "middle"},
 "encoding": {"x": {"datum": 216.7, "type": "quantitative", "axis": null}, "y": {"datum": -1.8, "type": "quantitative"}, "text": {"field": "b"}}}
]
},
{
"width": 601, "height": 49,
"layer": [
{"data": {"values": [{}]}, "mark": {"type": "rect", "color": "#2196f3", "opacity": 0.1},
 "encoding": {
  "x": {"datum": -0.35, "type": "quantitative", "scale": {"domain": [-0.35, 211.8], "nice": false, "zero": false}, "axis": {"values": [8.5,24,38.8,54,69.2,84,108,126,144.4,159.5,174.4,189.5,204], "labels": false, "grid": true, "title": null}},
  "x2": {"datum": 211.8},
  "y": {"datum": 20, "type": "quantitative", "scale": {"domain": [6, 104], "nice": false, "zero": false}},
  "y2": {"datum": 80}
 }},
{"data": {"values": [{"lv": 80}, {"lv": 50}, {"lv": 20}]}, "mark": {"type": "rule", "color": "#9598a1", "strokeWidth": 0.8, "strokeDash": [3, 3]},
 "encoding": {"y": {"field": "lv", "type": "quantitative"}}},
{"data": {"name": "stoch"}, "mark": {"type": "line", "color": "#4f7ff0", "strokeWidth": 1, "interpolate": "monotone"},
 "encoding": {"x": {"field": "t", "type": "quantitative", "axis": null}, "y": {"field": "s", "type": "quantitative", "axis": {"orient": "right", "tickCount": 5, "labelExpr": "datum.value == 40 || datum.value == 80 ? format(datum.value, '.2f') : ''", "labelPadding": 5, "grid": false, "title": null}}}},
{"data": {"values": [{"b": "13.23"}]}, "mark": {"type": "point", "shape": "M-1,-0.235H1V0.235H-1Z", "size": 676, "filled": true, "color": "#2962ff", "opacity": 1},
 "encoding": {"x": {"datum": 216.7, "type": "quantitative", "axis": null}, "y": {"datum": 16, "type": "quantitative"}}},
{"data": {"values": [{"b": "13.23"}]}, "mark": {"type": "text", "fontSize": 6, "color": "#ffffff", "align": "center", "baseline": "middle"},
 "encoding": {"x": {"datum": 216.7, "type": "quantitative", "axis": null}, "y": {"datum": 16, "type": "quantitative"}, "text": {"field": "b"}}}
]
},
{
"width": 601, "height": 44,
"layer": [
{"data": {"values": [{}]}, "mark": {"type": "rect", "color": "#7e57c2", "opacity": 0.1},
 "encoding": {
  "x": {"datum": -0.35, "type": "quantitative", "scale": {"domain": [-0.35, 211.8], "nice": false, "zero": false}, "axis": {"values": [8.5,24,38.8,54,69.2,84,108,126,144.4,159.5,174.4,189.5,204], "grid": true, "title": null, "labelPadding": 4, "labelExpr": "['12:00','14','12:00','21','12:00','28','Nov','6','11','13:00','18','13:00','25'][indexof([8.5,24,38.8,54,69.2,84,108,126,144.4,159.5,174.4,189.5,204], datum.value)]"}},
  "x2": {"datum": 211.8},
  "y": {"datum": 30, "type": "quantitative", "scale": {"domain": [25, 80], "nice": false, "zero": false}},
  "y2": {"datum": 70}
 }},
{"data": {"values": [{"lv": 70}, {"lv": 50}, {"lv": 30}]}, "mark": {"type": "rule", "color": "#9598a1", "strokeWidth": 0.8, "strokeDash": [3, 3]},
 "encoding": {"y": {"field": "lv", "type": "quantitative"}}},
{"data": {"name": "rsi"}, "mark": {"type": "line", "color": "#9274d8", "strokeWidth": 1},
 "encoding": {"x": {"field": "t", "type": "quantitative", "axis": null}, "y": {"field": "r", "type": "quantitative", "axis": {"orient": "right", "tickCount": 3, "format": ".2f", "labelPadding": 5, "labelOffset": 1, "grid": false, "title": null}}}},
{"data": {"name": "divs"}, "mark": {"type": "rule", "strokeWidth": 1.5},
 "encoding": {"x": {"field": "t1", "type": "quantitative", "axis": null}, "x2": {"field": "t2"}, "y": {"field": "r1", "type": "quantitative"}, "y2": {"field": "r2"},
  "color": {"condition": {"test": "datum.k === 'bull'", "value": "#4caf50"}, "value": "#f7707a"}}},
{"data": {"name": "divlabels"}, "mark": {"type": "point", "shape": "M-1,-0.6H1V0.6H-1Z", "size": 169, "filled": true, "opacity": 1},
 "encoding": {"x": {"field": "t", "type": "quantitative", "axis": null}, "y": {"field": "r", "type": "quantitative"},
  "color": {"condition": {"test": "datum.lab === 'Bull'", "value": "#4caf50"}, "value": "#f23645"}}},
{"data": {"name": "divlabels"}, "mark": {"type": "text", "fontSize": 5, "color": "#ffffff", "align": "center", "baseline": "middle"},
 "encoding": {"x": {"field": "t", "type": "quantitative", "axis": null}, "y": {"field": "r", "type": "quantitative"}, "text": {"field": "lab"}}},
{"data": {"values": [{"b": "30.98"}]}, "mark": {"type": "point", "shape": "M-1,-0.235H1V0.235H-1Z", "size": 676, "filled": true, "color": "#7e57c2", "opacity": 1},
 "encoding": {"x": {"datum": 216.7, "type": "quantitative", "axis": null}, "y": {"datum": 29.6, "type": "quantitative"}}},
{"data": {"values": [{"b": "30.98"}]}, "mark": {"type": "text", "fontSize": 6, "color": "#ffffff", "align": "center", "baseline": "middle"},
 "encoding": {"x": {"datum": 216.7, "type": "quantitative", "axis": null}, "y": {"datum": 29.6, "type": "quantitative"}, "text": {"field": "b"}}}
]
}
]
}
